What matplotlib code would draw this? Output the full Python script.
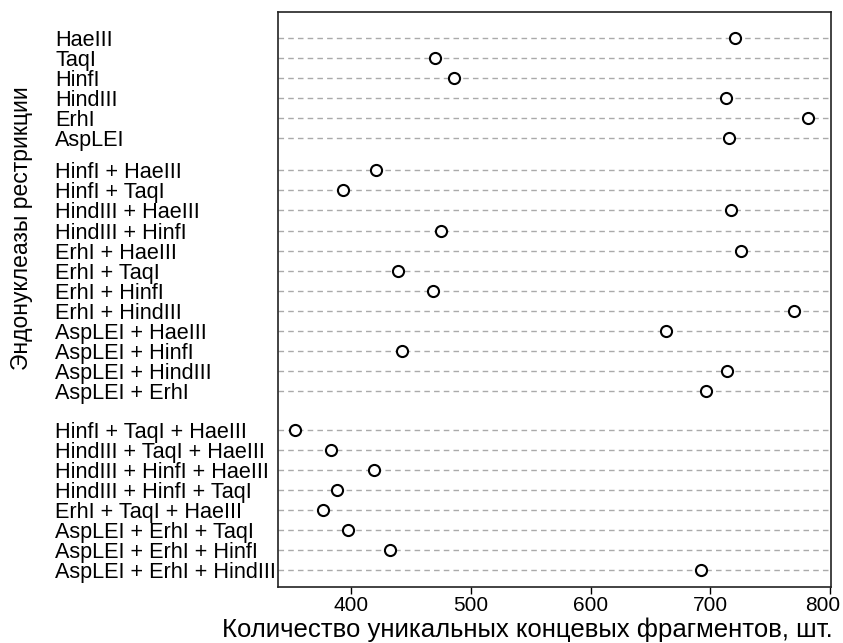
import numpy as np
import matplotlib
matplotlib.use("Agg")
import matplotlib.pyplot as plt
from matplotlib.transforms import ScaledTranslation

plt.rcParams['font.family'] = ['Liberation Sans', 'DejaVu Sans']

# Single enzymes
single_names = ["HaeIII", "TaqI", "HinfI", "HindIII", "ErhI", "AspLEI"]
single_vals = [721, 470, 486, 713, 782, 716]

# Pairs of enzymes
pair_names = ["HinfI + HaeIII", "HinfI + TaqI", "HindIII + HaeIII", "HindIII + HinfI",
              "ErhI + HaeIII", "ErhI + TaqI", "ErhI + HinfI", "ErhI + HindIII",
              "AspLEI + HaeIII", "AspLEI + HinfI", "AspLEI + HindIII", "AspLEI + ErhI"]
pair_vals = [421, 393, 717, 475, 726, 439, 468, 770, 663, 442, 714, 696]

# Triples of enzymes
triple_names = ["HinfI + TaqI + HaeIII", "HindIII + TaqI + HaeIII", "HindIII + HinfI + HaeIII",
                "HindIII + HinfI + TaqI", "ErhI + TaqI + HaeIII", "AspLEI + ErhI + TaqI",
                "AspLEI + ErhI + HinfI", "AspLEI + ErhI + HindIII"]
triple_vals = [353, 383, 419, 388, 376, 397, 432, 692]

x_ticks = [400, 500, 600, 700, 800]

# layout of the groups (in row units, counted from the top)
gaps = [0, 1.59, 1.93]
groups = [(single_names, single_vals), (pair_names, pair_vals), (triple_names, triple_vals)]

names, vals, ypos = [], [], []
pos = 0.0
for (g_names, g_vals), gap in zip(groups, gaps):
    if names:
        pos += gap
    for n, v in zip(g_names, g_vals):
        names.append(n)
        vals.append(v)
        ypos.append(pos)
        pos += 1
    pos -= 1

ypos = np.array(ypos)

fig = plt.figure(figsize=(8.43, 6.43), dpi=100)
ax = fig.add_axes([278 / 843, (643 - 586.7) / 643, 553 / 843, 575 / 643])

# dashed guide lines for every row
for y in ypos:
    ax.axhline(y, color="#aaaaaa", lw=1.0, ls=(0, (4, 3)), zorder=1)

ax.plot(vals, ypos, ls="none", marker="o", ms=8, mfc="white", mec="black", mew=1.5, zorder=3)

ax.set_xlim(338.8, 800.8)
ax.set_ylim(ypos[-1] + 0.83, -1.32)

ax.set_xticks(x_ticks)
ax.set_xticklabels([str(t) for t in x_ticks], fontsize=15)
ax.tick_params(axis="x", length=5, width=1, pad=2)
# last label is pulled in a bit so it stays inside the figure
last = ax.get_xticklabels()[-1]
last.set_transform(last.get_transform() + ScaledTranslation(-0.07, 0, fig.dpi_scale_trans))

ax.set_yticks(ypos)
ax.set_yticklabels(names, fontsize=15.6, ha="left")
ax.tick_params(axis="y", length=0, pad=(278 - 55) * 0.72)

for s in ax.spines.values():
    s.set_linewidth(1.2)
    s.set_color("#222222")

fig.text(527 / 843, 1 - 630 / 643, "Количество уникальных концевых фрагментов, шт.",
         ha="center", va="center", fontsize=18.5)
fig.text(22 / 843, 1 - 228 / 643, "Эндонуклеазы рестрикции",
         ha="center", va="center", rotation=90, fontsize=16.5)

fig.savefig("out.png", dpi=100)
